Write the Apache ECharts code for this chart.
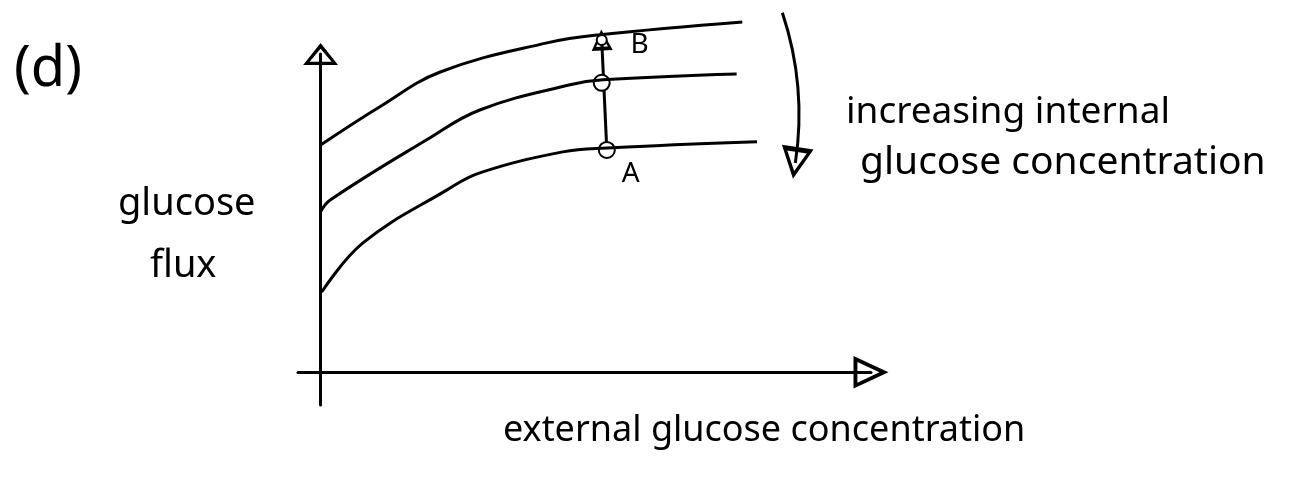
<!DOCTYPE html>
<html>
<head>
<meta charset="utf-8">
<title>glucose flux</title>
<script src="https://cdn.jsdelivr.net/npm/echarts@6/dist/echarts.min.js"></script>
<style>
  html, body { margin: 0; padding: 0; background: #fff; }
  #chart { width: 1293px; height: 477px; }
</style>
</head>
<body>
<div id="chart"></div>
<script>
// Glucose flux against external glucose concentration, one curve per
// internal glucose level (sketch units, no scale).
const fluxLowInternal  = [[0, 6.94], [1.05, 8.11], [2.12, 9.17], [4.01, 10.06], [4.95, 10.31], [7.47, 10.70]];
const fluxMidInternal  = [[0, 4.90], [0.17, 5.26], [1.88, 7.10], [2.82, 8.01], [4.42, 8.78], [5.00, 8.93], [7.37, 9.11]];
const fluxHighInternal = [[0.02, 2.45], [0.75, 3.95], [2.24, 5.57], [2.82, 6.09], [4.29, 6.73], [5.07, 6.85], [7.73, 7.04]];

// State change from A (high internal) up to B (low internal)
const pointA   = [5.07, 6.79];
const pointMid = [4.98, 8.84];
const pointB   = [4.98, 10.15];

// Direction arrow: increasing internal glucose concentration
const trendArrow = [[8.18, 10.98], [8.41, 6.39]];

const ink = '#000';
const hand = "'Noto Sans', sans-serif";

// Open (outlined) arrowheads, tip pointing up; inner triangle cut out.
const arrowX = 'path://M12.5,0 L25,27 L0,27 Z M12.5,7 L4.5,24 L20.5,24 Z';
const arrowY = 'path://M13.5,0 L27,17 L0,17 Z M13.5,4.5 L5,14.5 L22,14.5 Z';
const arrowTrend = 'path://M13,0 L26,20 L0,20 Z M13,5 L5,17 L21,17 Z';
const arrowSmall = 'path://M8,0 L16,14 L0,14 Z M8,4 L3.5,11.5 L12.5,11.5 Z';

const chart = echarts.init(document.getElementById('chart'));

const curve = (name, data) => ({
  name, type: 'line', data,
  smooth: 0.4, symbol: 'none', clip: false,
  lineStyle: { color: ink, width: 3 },
  silent: true
});

const handText = (left, top, text, size) => ({
  type: 'text', left, top,
  style: { text, font: size + 'px ' + hand, fill: ink }
});

chart.setOption({
  animation: false,
  backgroundColor: '#fff',
  grid: { left: 298, right: 422, top: 54, bottom: 72 },
  xAxis: {
    type: 'value', min: -0.4, max: 9.75,
    axisLine: { onZero: true, symbol: ['none', arrowX], symbolSize: [33, 35],
      lineStyle: { color: ink, width: 3 } },
    axisTick: { show: false }, axisLabel: { show: false }, splitLine: { show: false }
  },
  yAxis: {
    type: 'value', min: -1, max: 9.72,
    axisLine: { onZero: true, symbol: ['none', arrowY], symbolSize: [35, 22],
      lineStyle: { color: ink, width: 3 } },
    axisTick: { show: false }, axisLabel: { show: false }, splitLine: { show: false }
  },
  graphic: [
    handText(14, 42, '(d)', 56),
    handText(118, 185, 'glucose', 38),
    handText(150, 247, 'flux', 38),
    handText(846, 94, 'increasing internal', 37),
    handText(860, 143, 'glucose concentration', 39),
    handText(503, 413, 'external glucose concentration', 36)
  ],
  series: [
    curve('low internal', fluxLowInternal),
    curve('mid internal', fluxMidInternal),
    curve('high internal', fluxHighInternal),
    {
      name: 'A to B', type: 'lines', coordinateSystem: 'cartesian2d', clip: false,
      data: [{ coords: [pointA, pointB] }],
      symbol: ['none', arrowSmall], symbolSize: [24, 21],
      lineStyle: { color: ink, width: 3, opacity: 1 },
      silent: true
    },
    {
      name: 'trend', type: 'lines', coordinateSystem: 'cartesian2d', clip: false,
      data: [{ coords: trendArrow }],
      symbol: ['none', arrowTrend], symbolSize: [42, 32],
      lineStyle: { color: ink, width: 3, opacity: 1, curveness: 0.12 },
      silent: true
    },
    {
      name: 'states', type: 'scatter', clip: false,
      symbol: 'emptyCircle', symbolSize: 16,
      itemStyle: { color: ink, borderColor: ink, borderWidth: 3.5, opacity: 1 },
      label: { show: true, color: ink, fontFamily: hand, fontSize: 28 },
      data: [
        { value: pointA, label: { formatter: 'A', position: 'inside', offset: [24, 24] } },
        { value: pointMid, label: { show: false } },
        { value: pointB, symbolSize: 10, label: { formatter: 'B', position: 'inside', offset: [38, 5] } }
      ],
      silent: true
    }
  ]
});
</script>
</body>
</html>
